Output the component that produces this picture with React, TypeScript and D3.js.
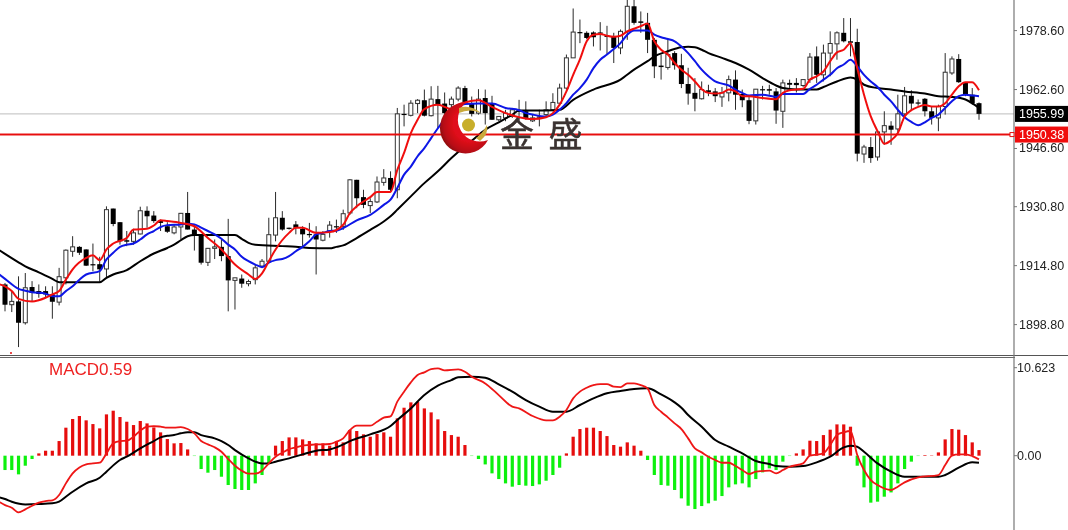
import React from "react";
import * as d3 from "d3";

const W = 1068, H = 530;
const opens = [1909.7,1904.2,1905.1,1899.3,1909.0,1907.9,1907.9,1907.0,1904.9,1911.5,1918.7,1919.9,1919.2,1915.2,1915.2,1913.9,1930.3,1926.6,1921.7,1921.4,1923.4,1929.7,1928.4,1926.9,1925.5,1923.7,1925.3,1929.1,1924.6,1923.1,1915.7,1919.5,1919.9,1917.4,1910.8,1911.3,1909.9,1911.0,1914.7,1916.0,1923.1,1927.8,1925.1,1926.0,1924.8,1923.4,1923.3,1921.7,1924.2,1925.5,1925.4,1929.1,1938.1,1933.4,1931.1,1932.1,1937.4,1938.6,1935.4,1956.0,1955.6,1958.8,1959.7,1955.5,1960.0,1958.8,1958.5,1960.0,1963.0,1958.9,1956.2,1960.3,1958.9,1954.4,1954.9,1955.3,1956.9,1956.7,1954.1,1955.3,1955.8,1957.1,1958.9,1963.0,1971.2,1978.2,1978.0,1978.1,1978.1,1977.2,1977.0,1973.9,1978.4,1985.2,1981.1,1980.7,1976.1,1969.1,1968.6,1972.5,1969.2,1964.1,1961.7,1960.1,1962.4,1962.1,1960.6,1961.7,1965.3,1961.4,1959.7,1954.1,1962.7,1962.7,1962.1,1956.7,1964.4,1964.4,1963.7,1965.3,1971.6,1966.6,1972.5,1975.0,1978.0,1975.7,1975.5,1945.1,1947.0,1944.3,1951.1,1952.8,1951.9,1956.0,1960.9,1959.1,1960.1,1956.7,1954.9,1958.0,1967.1,1970.9,1964.4,1961.2,1958.9];
const highs = [1910.1,1907.9,1911.9,1912.8,1910.6,1909.7,1909.2,1909.2,1914.2,1919.2,1922.8,1920.1,1919.2,1920.8,1917.2,1930.9,1930.3,1926.6,1924.2,1924.8,1930.8,1930.9,1929.6,1927.3,1926.6,1926.0,1929.1,1934.8,1926.0,1923.1,1919.6,1921.9,1921.9,1927.5,1911.5,1912.4,1911.0,1915.1,1916.6,1927.8,1934.8,1929.6,1925.1,1926.9,1925.5,1926.4,1925.5,1924.2,1926.9,1927.3,1930.0,1938.3,1938.1,1935.4,1933.1,1939.0,1941.0,1940.4,1957.6,1958.5,1959.7,1960.0,1962.6,1963.5,1963.6,1961.8,1960.7,1963.5,1963.6,1960.7,1962.7,1962.6,1960.9,1955.3,1957.1,1957.6,1959.8,1959.4,1955.8,1957.1,1959.4,1961.6,1964.2,1972.1,1984.6,1981.6,1978.4,1978.4,1980.9,1979.9,1978.0,1978.9,1987.0,1987.5,1983.8,1983.4,1976.6,1972.1,1976.1,1973.0,1972.3,1968.5,1965.7,1964.8,1963.9,1963.0,1963.3,1966.4,1967.8,1962.6,1960.8,1962.7,1963.6,1963.9,1963.0,1965.3,1965.3,1965.7,1965.3,1972.5,1974.3,1974.8,1978.4,1978.4,1982.0,1982.0,1979.1,1947.6,1949.7,1951.1,1956.7,1954.0,1961.2,1963.3,1962.4,1959.9,1960.3,1958.0,1958.5,1972.5,1971.6,1972.2,1964.6,1963.0,1959.1];
const lows = [1902.4,1902.2,1892.7,1898.8,1905.1,1906.1,1906.1,1900.4,1904.0,1909.7,1917.2,1917.7,1914.7,1913.3,1910.1,1911.5,1925.5,1920.5,1920.1,1920.5,1923.3,1925.1,1926.4,1924.2,1923.7,1923.3,1921.9,1924.6,1918.9,1915.1,1914.7,1916.6,1916.0,1902.4,1902.9,1908.8,1909.2,1909.7,1914.2,1915.7,1921.4,1924.3,1924.6,1923.3,1919.6,1922.4,1912.4,1921.4,1922.4,1923.7,1924.5,1928.6,1930.4,1930.4,1929.1,1931.8,1936.5,1935.0,1933.1,1952.6,1955.3,1956.2,1955.3,1955.3,1952.1,1955.8,1955.3,1959.4,1958.5,1955.3,1955.8,1953.1,1954.4,1954.0,1954.0,1954.9,1953.5,1954.4,1953.8,1952.6,1955.3,1956.7,1958.5,1962.6,1971.2,1975.2,1976.3,1974.3,1973.2,1972.1,1969.8,1972.2,1976.1,1980.2,1978.0,1972.5,1965.7,1965.3,1968.0,1968.0,1963.0,1958.5,1956.7,1959.9,1960.8,1959.2,1957.9,1959.4,1957.1,1957.8,1953.2,1953.1,1959.9,1961.2,1953.3,1952.2,1962.6,1961.8,1963.3,1964.4,1964.4,1964.8,1966.2,1970.7,1975.4,1971.6,1943.1,1942.7,1942.7,1943.3,1947.6,1947.6,1950.8,1955.3,1957.1,1958.2,1955.3,1953.1,1951.3,1955.8,1966.6,1964.4,1960.8,1958.5,1954.4];
const closes = [1904.2,1905.1,1899.3,1908.8,1907.4,1907.1,1907.0,1905.0,1911.8,1919.0,1919.9,1918.3,1914.8,1914.9,1913.8,1930.0,1926.1,1921.4,1921.3,1923.7,1929.7,1928.2,1926.9,1926.4,1924.0,1925.3,1929.0,1924.6,1923.1,1915.6,1919.5,1919.9,1917.4,1910.8,1911.5,1909.9,1910.5,1914.2,1916.0,1923.2,1927.8,1924.6,1924.8,1925.1,1923.3,1923.3,1921.9,1923.3,1925.8,1925.3,1928.9,1938.1,1933.1,1931.3,1932.2,1937.5,1938.6,1935.4,1956.0,1955.8,1958.9,1959.7,1955.5,1960.0,1958.5,1956.2,1960.0,1963.0,1958.9,1956.0,1960.0,1956.2,1954.4,1955.3,1956.2,1957.1,1956.5,1954.9,1954.9,1955.1,1957.1,1959.1,1963.0,1971.2,1978.2,1978.0,1976.6,1976.8,1977.8,1976.9,1973.9,1978.4,1985.2,1980.7,1980.7,1976.1,1968.9,1968.7,1972.1,1969.2,1964.1,1961.5,1960.1,1962.6,1961.9,1960.8,1961.7,1965.3,1961.2,1959.7,1954.1,1962.7,1962.5,1962.3,1956.9,1964.4,1963.9,1963.8,1965.3,1971.4,1966.6,1972.5,1975.1,1978.0,1975.7,1975.3,1945.2,1947.0,1944.0,1951.1,1952.8,1951.7,1956.0,1960.9,1958.8,1958.9,1956.7,1954.9,1958.0,1967.3,1970.9,1964.6,1961.2,1958.9,1955.99];

type P = [number, number];
const maFast: P[] = [[-1,1909.8],[0,1909.2],[1,1907.9],[2,1905.8],[4,1905.1],[6,1906.1],[7,1907.0],[8,1907.9],[9,1911.0],[10,1913.8],[12,1916.9],[13,1917.6],[14,1916.3],[15,1919.2],[16,1920.8],[18,1922.3],[19,1924.6],[21,1924.8],[22,1925.7],[23,1927.1],[24,1926.9],[26,1926.4],[28,1925.5],[30,1922.3],[32,1919.2],[34,1915.1],[36,1912.4],[37,1911.2],[38,1912.7],[39,1916.0],[40,1919.2],[42,1923.7],[43,1925.1],[44,1925.1],[46,1923.7],[48,1923.9],[50,1925.9],[51,1929.1],[52,1930.9],[53,1932.2],[54,1933.4],[55,1934.8],[57,1934.8],[58,1940.8],[59,1945.4],[60,1950.8],[61,1954.4],[62,1957.3],[64,1958.5],[66,1957.3],[67,1958.5],[68,1959.1],[70,1959.7],[72,1957.9],[74,1956.2],[76,1955.1],[78,1954.6],[80,1955.1],[81,1956.2],[82,1958.5],[83,1962.1],[84,1966.6],[85,1970.8],[86,1975.7],[87,1977.5],[88,1977.7],[89,1977.2],[90,1976.9],[91,1977.2],[92,1978.4],[93,1979.1],[94,1979.8],[95,1980.5],[96,1975.7],[97,1973.4],[98,1972.1],[99,1969.8],[100,1968.0],[101,1966.6],[102,1964.8],[103,1962.7],[104,1961.7],[105,1961.5],[106,1961.7],[107,1962.6],[108,1962.1],[109,1960.8],[110,1960.8],[112,1960.3],[114,1960.0],[115,1961.7],[116,1962.4],[117,1962.6],[118,1962.8],[119,1965.3],[120,1966.2],[121,1967.5],[122,1970.3],[123,1972.7],[124,1973.4],[125,1975.2],[126,1968.4],[127,1961.2],[128,1955.3],[129,1951.3],[130,1947.9],[131,1948.8],[132,1950.8],[133,1955.3],[134,1957.0],[135,1957.9],[136,1958.4],[137,1958.0],[138,1958.0],[139,1958.9],[140,1961.2],[141,1963.5],[142,1964.6],[143,1964.6],[144,1962.4]];
const maMid: P[] = [[-1,1912.6],[0,1911.2],[2,1908.5],[3,1908.0],[4,1907.6],[6,1907.2],[7,1906.5],[8,1906.5],[9,1907.9],[10,1909.2],[11,1911.0],[12,1912.4],[14,1913.3],[15,1916.5],[16,1918.3],[17,1919.9],[18,1920.5],[19,1920.8],[20,1921.9],[21,1923.3],[22,1924.2],[23,1925.3],[24,1925.8],[26,1926.0],[27,1926.2],[28,1926.0],[29,1925.1],[30,1924.2],[31,1923.3],[32,1922.1],[33,1920.5],[34,1919.2],[35,1917.2],[36,1916.0],[37,1915.1],[38,1914.4],[39,1915.6],[40,1916.3],[41,1916.6],[42,1917.4],[43,1918.7],[44,1919.9],[45,1921.4],[46,1923.3],[47,1923.7],[48,1924.2],[49,1924.3],[50,1925.0],[52,1927.1],[54,1928.6],[56,1931.3],[57,1932.7],[58,1935.9],[59,1939.5],[60,1941.7],[61,1944.5],[62,1946.7],[63,1949.4],[64,1952.1],[65,1954.4],[66,1956.4],[67,1958.0],[68,1958.7],[70,1958.8],[72,1958.8],[74,1957.6],[76,1957.0],[77,1956.2],[78,1955.8],[80,1955.3],[81,1955.8],[82,1957.1],[83,1958.9],[84,1961.2],[85,1963.0],[86,1965.3],[87,1968.4],[88,1970.7],[89,1972.1],[90,1973.6],[91,1975.2],[92,1977.5],[93,1978.6],[94,1978.6],[95,1978.6],[96,1977.5],[97,1976.8],[98,1976.3],[99,1975.7],[100,1974.3],[101,1972.5],[102,1970.3],[103,1968.0],[104,1966.2],[105,1964.8],[106,1964.2],[107,1963.7],[108,1962.6],[109,1961.7],[110,1961.0],[112,1961.2],[114,1960.6],[115,1961.4],[118,1961.4],[119,1962.8],[120,1963.9],[121,1965.3],[122,1966.6],[123,1968.4],[124,1969.4],[125,1970.7],[126,1968.9],[127,1966.6],[128,1964.8],[129,1963.3],[130,1961.2],[131,1959.4],[132,1957.1],[133,1955.1],[134,1953.8],[135,1952.9],[136,1953.7],[137,1954.9],[138,1955.8],[139,1957.6],[140,1959.4],[141,1960.8],[142,1961.2],[143,1961.0],[144,1960.8]];
const maSlow: P[] = [[-1,1919.2],[0,1918.0],[2,1915.7],[3,1914.6],[5,1913.0],[7,1911.2],[8,1910.3],[14,1910.3],[15,1911.5],[16,1912.4],[18,1913.6],[20,1916.0],[22,1918.1],[24,1919.6],[25,1920.5],[26,1921.7],[27,1922.8],[28,1923.1],[34,1923.1],[35,1922.1],[36,1921.0],[37,1920.5],[41,1920.1],[43,1919.9],[45,1919.6],[48,1919.5],[49,1919.9],[50,1920.3],[52,1922.3],[54,1924.5],[56,1926.8],[57,1928.2],[58,1930.0],[60,1933.6],[62,1937.2],[64,1940.4],[66,1944.0],[68,1947.2],[69,1948.7],[71,1951.7],[73,1953.7],[75,1955.8],[76,1956.9],[80,1956.9],[82,1957.1],[84,1959.8],[87,1962.6],[91,1965.3],[93,1968.0],[95,1970.3],[96,1971.6],[98,1973.0],[100,1974.1],[101,1974.2],[102,1974.1],[103,1973.4],[104,1972.5],[106,1971.2],[108,1969.8],[110,1968.0],[112,1965.7],[114,1963.7],[115,1963.0],[117,1962.6],[120,1962.6],[121,1963.3],[123,1964.8],[125,1965.9],[126,1965.3],[127,1963.9],[129,1963.0],[131,1962.6],[133,1962.1],[136,1961.5],[138,1960.8],[140,1960.6],[142,1959.9],[144,1957.6]];

const macdHist = [-1.73,-1.73,-2.25,-1.21,-0.40,0.28,0.60,0.60,1.77,3.38,4.43,4.79,4.27,3.82,3.30,4.99,5.43,4.67,4.10,3.70,4.19,3.90,3.42,2.82,2.01,1.49,1.53,0.76,-0.04,-1.61,-2.05,-1.73,-2.54,-3.54,-4.02,-4.14,-4.14,-3.34,-2.33,-0.93,1.21,1.77,2.21,2.21,1.97,1.77,1.49,1.49,1.21,1.77,1.61,3.10,2.98,2.58,2.29,2.62,2.82,2.29,4.51,5.79,6.44,6.52,5.71,5.23,4.39,2.98,2.49,2.29,1.29,-0.04,-0.40,-1.05,-2.13,-2.82,-3.34,-3.74,-3.54,-3.62,-3.66,-3.46,-3.02,-2.33,-1.45,0.28,2.29,3.22,3.38,3.38,2.98,2.37,1.29,1.09,1.61,1.21,0.60,-0.52,-2.33,-3.54,-3.62,-4.14,-5.15,-6.04,-6.44,-6.08,-5.75,-5.43,-4.87,-3.82,-3.46,-3.34,-3.82,-2.82,-2.01,-1.53,-1.73,-0.72,-0.04,0.28,0.76,1.81,1.77,2.49,3.14,3.78,3.78,3.50,-1.21,-3.82,-5.67,-5.55,-4.95,-4.43,-3.34,-1.61,-0.72,-0.04,0.08,0.04,0.40,1.97,3.22,3.14,2.49,1.61,0.68];
const macdRed: P[] = [[-1,-5.5],[0,-5.96],[1,-6.28],[2,-6.84],[3,-6.48],[4,-6.04],[5,-5.67],[6,-5.47],[7,-5.39],[8,-4.75],[9,-3.34],[10,-2.13],[11,-1.41],[12,-1.05],[13,-0.93],[14,-0.85],[15,0.28],[16,1.49],[17,1.77],[18,1.81],[19,2.29],[20,3.02],[21,3.50],[22,3.58],[23,3.50],[24,3.38],[25,3.38],[26,3.46],[27,3.22],[28,2.70],[29,1.77],[30,1.37],[31,1.01],[32,0.48],[33,-0.40],[34,-1.21],[35,-1.81],[36,-2.17],[37,-2.17],[38,-1.81],[39,-0.93],[40,-0.12],[41,0.36],[42,0.80],[43,1.01],[44,1.21],[45,1.29],[46,1.37],[47,1.37],[48,1.41],[49,1.69],[50,2.09],[51,3.10],[52,3.62],[54,3.62],[55,4.10],[56,4.59],[57,4.75],[58,6.52],[59,7.73],[60,8.85],[61,9.74],[62,10.06],[63,10.46],[64,10.54],[65,10.30],[67,10.42],[68,10.14],[69,9.54],[71,8.73],[73,7.32],[75,5.92],[76,5.71],[78,4.79],[80,4.27],[81,4.27],[82,4.71],[83,5.51],[84,6.92],[85,7.73],[86,8.21],[87,8.53],[88,8.65],[89,8.65],[90,8.33],[91,8.29],[92,8.73],[93,8.73],[94,8.53],[95,8.13],[96,6.12],[97,5.31],[98,4.63],[99,3.90],[100,3.22],[101,2.09],[102,0.89],[103,0.40],[104,-0.12],[105,-0.52],[106,-0.85],[107,-0.85],[108,-1.25],[109,-1.73],[110,-2.21],[111,-1.93],[113,-1.81],[114,-2.13],[115,-1.73],[116,-1.33],[118,-0.93],[119,0.00],[121,0.28],[122,1.29],[123,2.49],[124,2.82],[125,2.98],[126,0.08],[127,-1.73],[128,-2.94],[129,-3.54],[131,-4.14],[132,-3.74],[133,-3.22],[135,-2.62],[138,-2.33],[139,-1.13],[140,0.00],[141,0.16],[142,0.16],[143,-0.04],[144,-0.44]];
const macdBlack: P[] = [[-1,-5.0],[0,-5.23],[1,-5.55],[3,-5.88],[5,-5.84],[7,-5.75],[8,-5.55],[9,-4.95],[10,-4.35],[12,-3.34],[14,-2.66],[15,-1.93],[17,-0.52],[18,-0.12],[20,0.89],[22,1.77],[23,2.21],[24,2.41],[25,2.49],[26,2.70],[27,2.82],[28,2.82],[29,2.49],[31,2.09],[32,1.77],[33,1.29],[34,0.68],[36,-0.32],[37,-0.72],[38,-0.93],[39,-0.93],[40,-0.72],[42,-0.32],[44,0.16],[46,0.60],[48,0.76],[49,1.01],[50,1.37],[51,1.77],[54,2.58],[57,3.58],[58,4.31],[60,5.71],[62,7.32],[64,8.45],[66,9.13],[67,9.46],[69,9.54],[71,9.42],[73,8.61],[75,7.73],[77,6.72],[79,5.92],[81,5.31],[83,5.31],[85,6.12],[87,6.92],[89,7.53],[91,7.81],[93,8.05],[95,8.13],[97,7.40],[99,6.44],[100,5.79],[101,4.91],[103,3.50],[105,1.89],[107,1.09],[109,0.28],[111,-0.64],[113,-1.01],[114,-1.25],[116,-1.33],[118,-1.25],[120,-0.80],[122,-0.12],[124,1.01],[125,1.21],[126,1.09],[127,0.48],[129,-0.93],[131,-1.93],[133,-2.54],[135,-2.54],[138,-2.54],[139,-2.33],[141,-1.45],[143,-0.80],[144,-0.85]];

const priceTicks = ["1978.60", "1962.60", "1946.60", "1930.80", "1914.80", "1898.80"];
const macdTicks = ["10.623", "0.00"];
const lastPrice = 1955.99;
const bidLine = 1950.38;
const macdLabel = "MACD0.59";
const brand = ["金", "盛"];

const AXIS_X = 1014;
const FONT = "'Liberation Sans', Arial, sans-serif";
const x = d3.scaleLinear().domain([0, 144]).range([5, 979]);
const y = d3.scaleLinear().domain([1978.6, 1898.8]).range([30.6, 324.6]);
const ym = d3.scaleLinear().domain([10.623, 0]).range([367.7, 455.7]);

const lineOf = (sy: d3.ScaleLinear<number, number>) =>
  d3.line<P>().x((d) => x(d[0])).y((d) => sy(d[1])).curve(d3.curveMonotoneX);

function Text({ x: tx, y: ty, children, fill = "#222", size = 12.5 }: any) {
  return (
    <text x={tx} y={ty} fill={fill} fontSize={size} fontFamily={FONT} dominantBaseline="central">
      {children}
    </text>
  );
}

export default function App() {
  const pl = lineOf(y), ml = lineOf(ym);
  return (
    <svg width={W} height={H} viewBox={`0 0 ${W} ${H}`} style={{ position: "fixed", left: 0, top: 0, background: "#fff" }}>
      <defs>
        <radialGradient id="cres" cx="0.62" cy="0.42" r="0.68">
          <stop offset="0.5" stopColor="#e0101a" />
          <stop offset="0.8" stopColor="#b80c14" />
          <stop offset="1" stopColor="#7c0a0e" />
        </radialGradient>
        <clipPath id="main"><rect x={0} y={0} width={AXIS_X} height={354} /></clipPath>
        <filter id="soft" x="0" y="0" width="100%" height="100%"><feGaussianBlur stdDeviation="0.3" /></filter>
      </defs>

      <g filter="url(#soft)">
        <line x1={0} x2={AXIS_X} y1={y(lastPrice)} y2={y(lastPrice)} stroke="#bdbdbd" strokeWidth={1} />

        <g clipPath="url(#main)">
          {opens.map((o, i) => {
            const c = closes[i];
            const top = y(Math.max(o, c)), bot = y(Math.min(o, c));
            const up = c >= o;
            return (
              <g key={i}>
                <line x1={x(i)} x2={x(i)} y1={y(highs[i])} y2={y(lows[i])} stroke="#2a2a2a" strokeWidth={1} />
                {up ? (
                  <rect x={x(i) - 2} y={top} width={4} height={Math.max(bot - top, 1)} fill="#fff" stroke="#333" strokeWidth={1} />
                ) : (
                  <rect x={x(i) - 2.5} y={top} width={5} height={Math.max(bot - top, 1.2)} fill="#000" />
                )}
              </g>
            );
          })}
          <path d={pl(maSlow) || ""} fill="none" stroke="#000" strokeWidth={2} />
          <path d={pl(maMid) || ""} fill="none" stroke="#0a14e6" strokeWidth={2} />
          <path d={pl(maFast) || ""} fill="none" stroke="#f01010" strokeWidth={2} />
        </g>
        <circle cx={11} cy={353} r={1} fill="#e01010" />

        <line x1={0} x2={AXIS_X} y1={y(bidLine)} y2={y(bidLine)} stroke="#e81010" strokeWidth={2} />

        {/* brand mark */}
        <path d="M466 102.5 A25.5 25.5 0 1 0 488 140 A22 22 0 0 1 466 102.5 Z" fill="url(#cres)" />
        <path d="M459 108 Q470 104 481 113 Q470 108 459 113 Z" fill="#c9a93a" />
        <path d="M480 141 Q489 134 487 125 Q482 134 476 138 Z" fill="#c9a93a" />
        <circle cx={468.5} cy={125} r={6.5} fill="#c8ae2c" />
        {brand.map((t, i) => (
          <text key={t} x={i ? 548.5 : 500} y={146.5} fontSize={34} fill="#3a3230" stroke="#3a3230" strokeWidth={0.5} fontFamily="'Noto Sans CJK SC'">{t}</text>
        ))}

        {/* separators and axes */}
        <line x1={0} x2={W} y1={355.5} y2={355.5} stroke="#555" strokeWidth={1} />
        <line x1={0} x2={AXIS_X + 1} y1={357.5} y2={357.5} stroke="#666" strokeWidth={1} />
        <line x1={AXIS_X} x2={AXIS_X} y1={0} y2={H} stroke="#777" strokeWidth={1.2} />

        {priceTicks.map((t) => (
          <g key={t}>
            <line x1={AXIS_X} x2={AXIS_X + 3} y1={y(+t)} y2={y(+t)} stroke="#777" />
            <Text x={1019} y={y(+t)}>{t}</Text>
          </g>
        ))}

        <rect x={1015} y={y(lastPrice) - 8} width={53} height={16} fill="#000" />
        <Text x={1019} y={y(lastPrice)} fill="#fff">{lastPrice.toFixed(2)}</Text>
        <rect x={1015} y={y(bidLine) - 8} width={53} height={16} fill="#f01010" />
        <Text x={1019} y={y(bidLine)} fill="#fff">{bidLine.toFixed(2)}</Text>
        <rect x={AXIS_X - 4} y={y(bidLine) - 2} width={4} height={4} fill="#fff" stroke="#e81010" />

        {/* MACD pane */}
        {macdHist.map((v, i) => (
          <rect
            key={i}
            x={x(i) - 1.6}
            y={Math.min(ym(v), ym(0))}
            width={3.2}
            height={Math.abs(ym(v) - ym(0))}
            fill={v >= 0 ? "#e60f0f" : "#0ef00e"}
          />
        ))}
        <path d={ml(macdBlack) || ""} fill="none" stroke="#000" strokeWidth={2} />
        <path d={ml(macdRed) || ""} fill="none" stroke="#ee1515" strokeWidth={1.8} />

        {macdTicks.map((t) => (
          <g key={t}>
            <line x1={AXIS_X} x2={AXIS_X + 3} y1={ym(+t)} y2={ym(+t)} stroke="#777" />
            <Text x={1017} y={ym(+t)}>{t}</Text>
          </g>
        ))}
        <Text x={49} y={369} fill="#ee2020" size={17}>{macdLabel}</Text>
      </g>
    </svg>
  );
}
